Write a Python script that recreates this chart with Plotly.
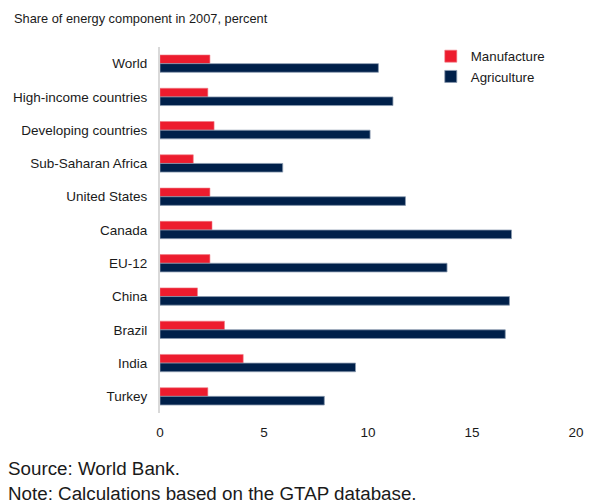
import plotly.graph_objects as go

categories = ["World", "High-income countries", "Developing countries", "Sub-Saharan Africa",
              "United States", "Canada", "EU-12", "China", "Brazil", "India", "Turkey"]
manufacture = [2.4, 2.3, 2.6, 1.6, 2.4, 2.5, 2.4, 1.8, 3.1, 4.0, 2.3]
agriculture = [10.5, 11.2, 10.1, 5.9, 11.8, 16.9, 13.8, 16.8, 16.6, 9.4, 7.9]
x_ticks = [0, 5, 10, 15, 20]

FONT = "Arial, Liberation Sans, sans-serif"
W, H = 592, 504
L, R, T, B = 160, 8, 47, 91
pw, ph = W - L - R, H - T - B

def px(x):
    return (x - L) / pw

def py(y):
    return (H - B - y) / ph

fig = go.Figure()
fig.add_trace(go.Bar(y=categories, x=manufacture, orientation="h", name="Manufacture",
                     marker=dict(color="#ED1C2E", line=dict(color="#f07a84", width=0.6))))
fig.add_trace(go.Bar(y=categories, x=agriculture, orientation="h", name="Agriculture",
                     marker=dict(color="#00204A", line=dict(color="#8a9bb0", width=0.8))))

fig.update_layout(
    width=W, height=H,
    margin=dict(l=L, r=R, t=T, b=B),
    paper_bgcolor="white", plot_bgcolor="white",
    barmode="group", bargap=0.48, bargroupgap=0,
    font=dict(family=FONT, size=13, color="#1a1a1a"),
    showlegend=True,
    legend=dict(x=px(436), y=py(41), xanchor="left", yanchor="top",
                font=dict(size=13.3, family=FONT), bgcolor="rgba(0,0,0,0)",
                itemwidth=30, tracegroupgap=0),
    xaxis=dict(range=[0, 20], tickvals=x_ticks, showgrid=False, zeroline=False,
               showline=False, ticks="", ticklabelstandoff=9,
               tickfont=dict(size=13.5, family=FONT, color="#1a1a1a")),
    yaxis=dict(autorange="reversed", showgrid=False, zeroline=False,
               showline=True, linecolor="#d9d9d9", linewidth=2, ticks="",
               ticklabelstandoff=8,
               tickfont=dict(size=13.5, family=FONT, color="#1a1a1a")),
    annotations=[
        dict(text="Share of energy component in 2007, percent", x=px(9), y=py(19),
             xref="paper", yref="paper", xanchor="left", yanchor="middle",
             showarrow=False, font=dict(size=12.8, family=FONT, color="#1a1a1a")),
        dict(text="Source: World Bank.", x=px(3), y=py(468),
             xref="paper", yref="paper", xanchor="left", yanchor="middle",
             showarrow=False, font=dict(size=18.8, family=FONT, color="#1a1a1a")),
        dict(text="Note: Calculations based on the GTAP database.", x=px(3), y=py(494),
             xref="paper", yref="paper", xanchor="left", yanchor="middle",
             showarrow=False, font=dict(size=18.8, family=FONT, color="#1a1a1a")),
    ],
)

fig.write_html("out.html")
